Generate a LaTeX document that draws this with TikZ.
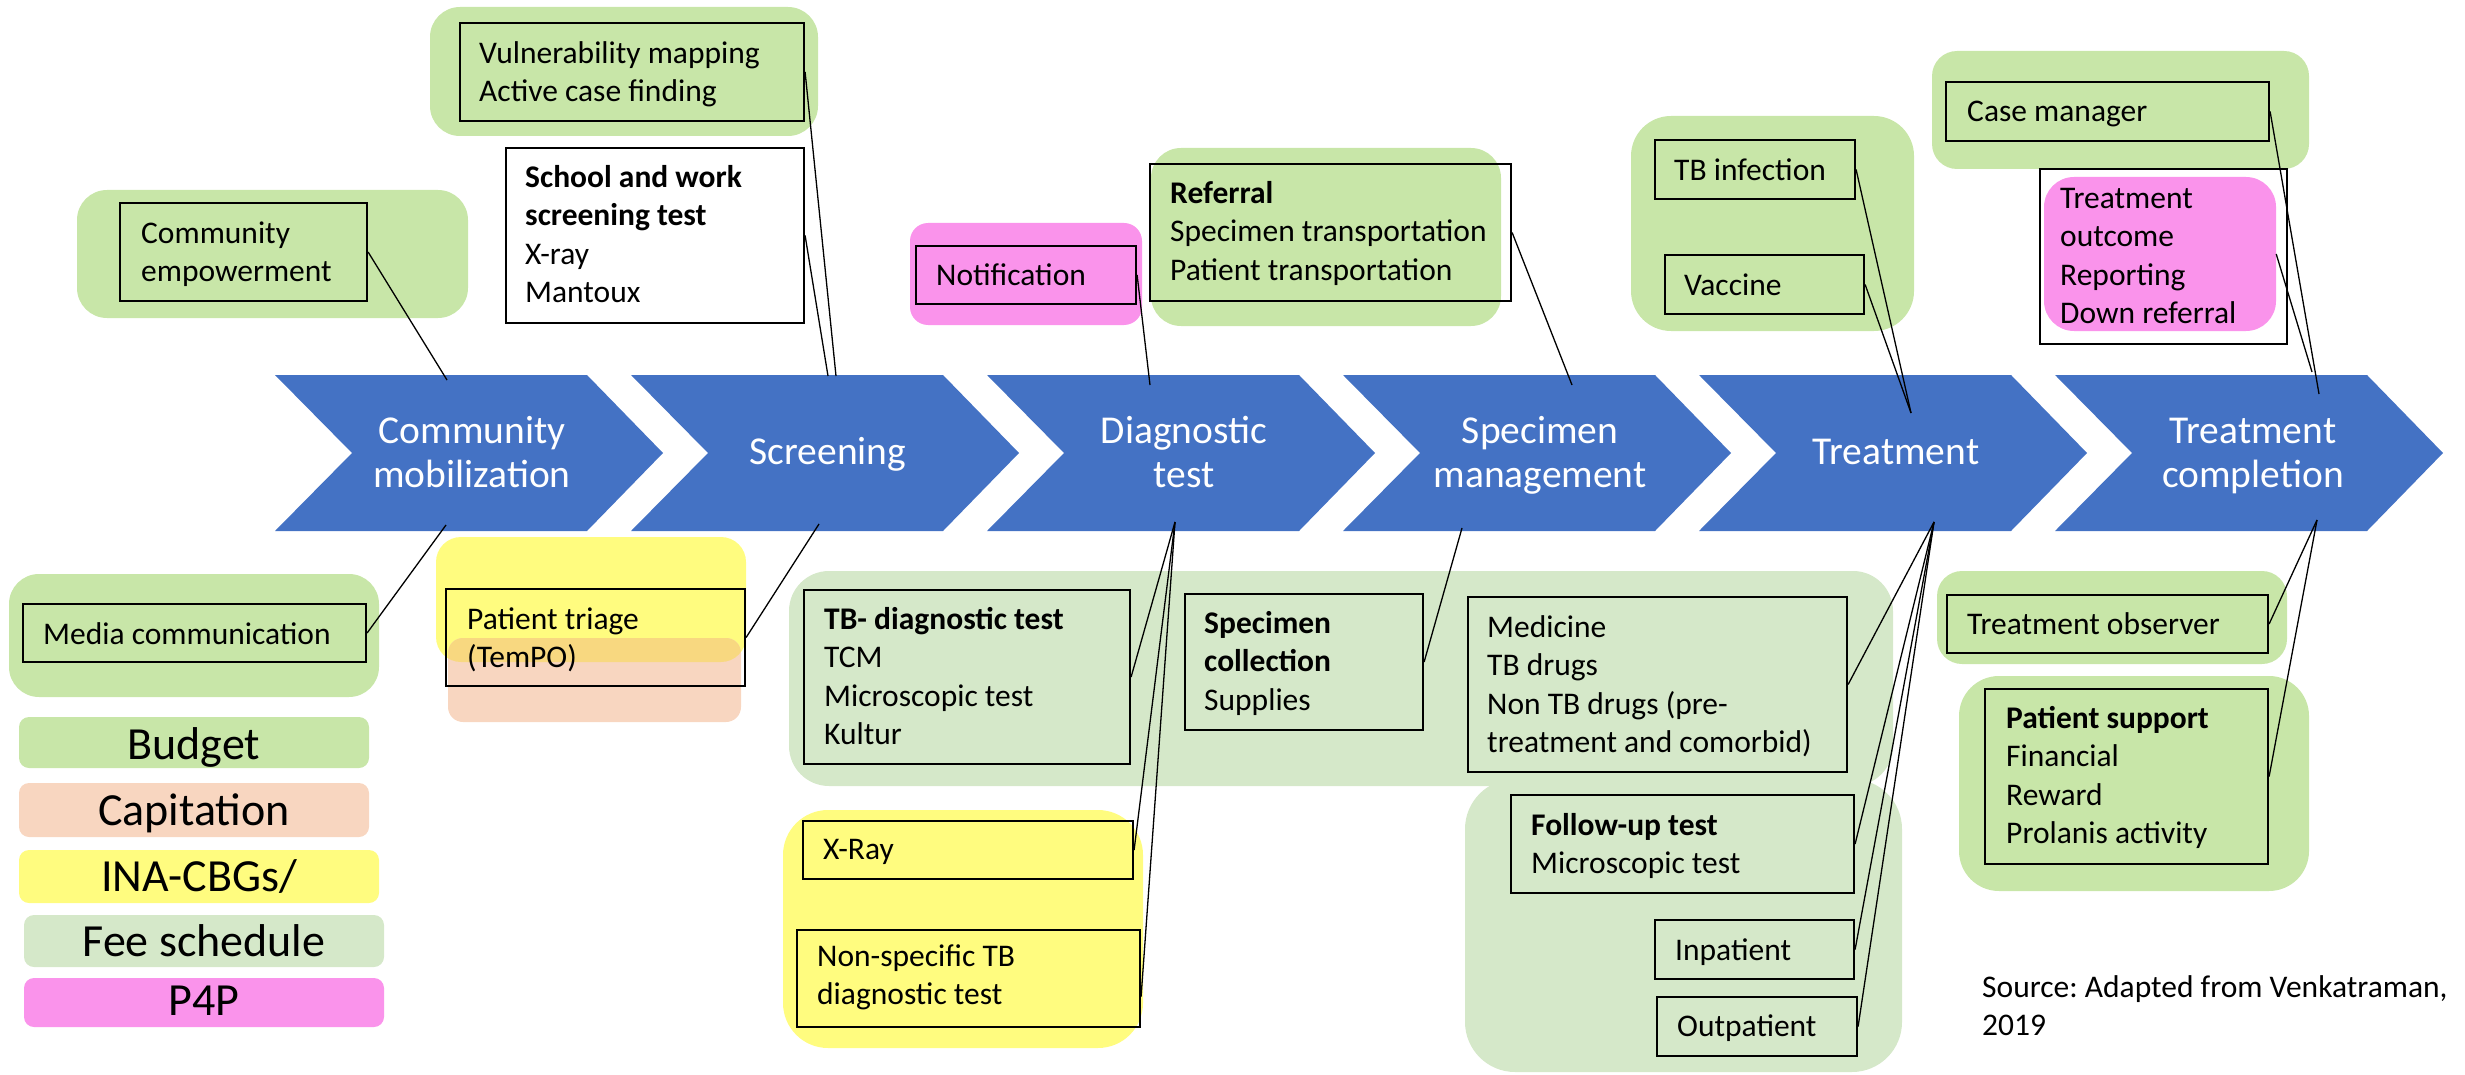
\documentclass[tikz,border=0pt]{standalone}
\usepackage{fontspec}
\setmainfont{Carlito}
\usetikzlibrary{fit}
\frenchspacing

\definecolor{chevblue}{HTML}{4472C4}
\definecolor{budget}{HTML}{C8E6A8}
\definecolor{capit}{HTML}{F8D6C0}
\definecolor{inacbg}{HTML}{FFFC7F}
\definecolor{feesch}{HTML}{D5E8C9}
\definecolor{pfp}{HTML}{FA93EB}
\definecolor{mixcol}{HTML}{F8D880}

% invisible struts fixing the height of the first line of a text block
\newcommand{\fst}{\rule{0pt}{26pt}}
\newcommand{\cst}{\rule{0pt}{30pt}}

\begin{document}
\begin{tikzpicture}[x=1pt,y=-1pt,
  bx/.style={draw=black, line width=2.2pt, inner sep=0pt},
  area/.style={inner sep=0pt, draw=none},
  txt/.style={anchor=north west, inner sep=0pt, align=left,
              font=\fontsize{31.5}{38.5}\selectfont},
  chevtxt/.style={anchor=north, inner sep=0pt, align=center, text=white,
              font=\fontsize{39.5}{44}\selectfont},
  legtxt/.style={anchor=base, inner sep=0pt, font=\fontsize{46}{50}\selectfont},
  conn/.style={draw=black, line width=1.3pt},
  chev/.style={fill=chevblue}]

\useasboundingbox (0,0) rectangle (2465,1075);

% ---------- coloured payment areas ----------
\fill[budget, rounded corners=30] (430,7) rectangle (818,136);
\fill[budget, rounded corners=30] (77,190) rectangle (468,318);
\fill[pfp, rounded corners=18] (910,223) rectangle (1142,325);
\fill[budget, rounded corners=30] (1151,148) rectangle (1501,326);
\fill[budget, rounded corners=40] (1631,116) rectangle (1914,331);
\fill[budget, rounded corners=25] (1932,51) rectangle (2309,169);
\node[area, fill=pfp, rounded corners=30, fit={(2044,177) (2276,331)}] (trobg) {};
\fill[budget, rounded corners=30] (9,574) rectangle (379,697);
\fill[inacbg, rounded corners=25] (436,537) rectangle (746,662);
\fill[capit, rounded corners=15] (448,638) rectangle (741,722);
\begin{scope}
  \clip[rounded corners=25] (436,537) rectangle (746,662);
  \fill[mixcol, rounded corners=15] (448,638) rectangle (741,722);
\end{scope}
\fill[feesch, rounded corners=40] (789,571) rectangle (1893,786);
\fill[feesch, rounded corners=50] (1465,779) rectangle (1902,1072);
\fill[inacbg, rounded corners=45] (783,810) rectangle (1143,1048);
\fill[budget, rounded corners=25] (1937,571) rectangle (2287,664);
\fill[budget, rounded corners=40] (1959,676) rectangle (2309,891);

% ---------- legend ----------
\fill[budget, rounded corners=10] (19,717) rectangle (369,768);
\fill[capit, rounded corners=10] (19,783) rectangle (369,837);
\fill[inacbg, rounded corners=10] (19,850) rectangle (379,903);
\fill[feesch, rounded corners=10] (24,915) rectangle (384,967);
\fill[pfp, rounded corners=10] (24,978) rectangle (384,1027);
\node[legtxt] (lgbudget) at (194,759) {Budget};
\node[legtxt] (lgcapit) at (194,825) {Capitation};
\node[legtxt] (lgina) at (199,891) {INA-CBGs/};
\node[legtxt] (lgfee) at (204,956) {Fee schedule};
\node[legtxt] (lgpfp) at (204,1015) {P4P};

% ---------- process chevrons ----------
\foreach \i in {0,...,5}
  \fill[chev] ({275+356*\i},375) -- ++(312,0) -- ++(76,78) -- ++(-76,78)
              -- ++(-312,0) -- ++(77,-78) -- cycle;
\node[chevtxt] (chev1) at (472,413) {\cst Community\\mobilization};
\node[chevtxt] (chev2) at (828,434) {\cst Screening};
\node[chevtxt] (chev3) at (1184,413) {\cst Diagnostic\\test};
\node[chevtxt] (chev4) at (1540,413) {\cst Specimen\\management};
\node[chevtxt] (chev5) at (1896,434) {\cst Treatment};
\node[chevtxt] (chev6) at (2253,413) {\cst Treatment\\completion};

% attachment points on the chevrons
\coordinate (c1t) at (447,380);
\coordinate (c1b) at (446,525);
\coordinate (c2ta) at (836,376);
\coordinate (c2tb) at (828,376);
\coordinate (c2b) at (819,524);
\coordinate (c3t) at (1150,385);
\coordinate (c3b) at (1175,522);
\coordinate (c4t) at (1572,385);
\coordinate (c4b) at (1462,528);
\coordinate (c5t) at (1911,413);
\coordinate (c5b) at (1934,522);
\coordinate (c6ta) at (2319,394);
\coordinate (c6tb) at (2312,372);
\coordinate (c6b) at (2317,520);

% ---------- activity boxes ----------
\node[bx, fit={(460,23) (804,121)}] (vul) {};
\node[txt] (vult) at (479,37) {\fst Vulnerability mapping\\Active case finding};

\node[bx, fit={(506,148) (804,323)}] (school) {};
\node[txt] (schoolt) at (525,161) {\fst\textbf{School and work}\\\textbf{screening test}\\X-ray\\Mantoux};

\node[bx, fit={(120,203) (367,301)}] (ce) {};
\node[txt] (cet) at (141,217) {\fst Community\\empowerment};

\node[bx, fit={(916,246) (1136,304)}] (notif) {};
\node[txt] (notift) at (936,259) {\fst Notification};

\node[bx, fit={(1150,164) (1511,301)}] (ref) {};
\node[txt] (reft) at (1170,177) {\fst\textbf{Referral}\\Specimen transportation\\Patient transportation};

\node[bx, fit={(1655,140) (1855,199)}] (tbi) {};
\node[txt] (tbit) at (1674,154) {\fst TB infection};

\node[bx, fit={(1665,255) (1864,314)}] (vac) {};
\node[txt] (vact) at (1684,269) {\fst Vaccine};

\node[bx, fit={(1946,82) (2269,141)}] (cm) {};
\node[txt] (cmt) at (1967,95) {\fst Case manager};

\node[bx, fit={(2040,169) (2287,344)}] (tro) {};
\node[txt] (trot) at (2060,182) {\fst Treatment\\outcome\\Reporting\\Down referral};

\node[bx, fit={(23,604) (366,662)}] (media) {};
\node[txt] (mediat) at (43,618) {\fst Media communication};

\node[bx, fit={(446,589) (745,686)}] (pt) {};
\node[txt] (ptt) at (467,603) {\fst Patient triage\\(TemPO)};

\node[bx, fit={(804,590) (1130,764)}] (tbd) {};
\node[txt] (tbdt) at (824,603) {\fst\textbf{TB- diagnostic test}\\TCM\\Microscopic test\\Kultur};

\node[bx, fit={(1185,594) (1423,730)}] (spc) {};
\node[txt] (spct) at (1204,607) {\fst\textbf{Specimen}\\\textbf{collection}\\Supplies};

\node[bx, fit={(1468,597) (1847,772)}] (med) {};
\node[txt] (medt) at (1487,611) {\fst Medicine\\TB drugs\\Non TB drugs (pre-\\treatment and comorbid)};

\node[bx, fit={(1511,795) (1854,893)}] (fu) {};
\node[txt] (fut) at (1531,809) {\fst\textbf{Follow-up test}\\Microscopic test};

\node[bx, fit={(1655,920) (1854,979)}] (inp) {};
\node[txt] (inpt) at (1675,934) {\fst Inpatient};

\node[bx, fit={(1657,997) (1857,1056)}] (outp) {};
\node[txt] (outpt) at (1677,1010) {\fst Outpatient};

\node[bx, fit={(803,821) (1133,879)}] (xr) {};
\node[txt] (xrt) at (823,833) {\fst X-Ray};

\node[bx, fit={(797,930) (1140,1027)}] (ns) {};
\node[txt] (nst) at (817,940) {\fst Non-specific TB\\diagnostic test};

\node[bx, fit={(1947,595) (2268,653)}] (tob) {};
\node[txt] (tobt) at (1967,608) {\fst Treatment observer};

\node[bx, fit={(1985,689) (2268,864)}] (ps) {};
\node[txt] (pst) at (2006,702) {\fst\textbf{Patient support}\\Financial\\Reward\\Prolanis activity};

\node[txt] (source) at (1982,971) {\fst Source: Adapted from Venkatraman,\\2019};

% ---------- connectors ----------
\draw[conn] (ce.east) -- (c1t);
\draw[conn] (media.east) -- (c1b);
\draw[conn] (vul.east) -- (c2ta);
\draw[conn] (school.east) -- (c2tb);
\draw[conn] (pt.east) -- (c2b);
\draw[conn] (notif.east) -- (c3t);
\draw[conn] (c3b) -- (tbd.east);
\draw[conn] (c3b) -- (xr.east);
\draw[conn] (c3b) -- ([yshift=-18pt]ns.east);
\draw[conn] (ref.east) -- (c4t);
\draw[conn] (c4b) -- (spc.east);
\draw[conn] (tbi.east) -- (c5t);
\draw[conn] (vac.east) -- (c5t);
\draw[conn] (c5b) -- (med.east);
\draw[conn] (c5b) -- (fu.east);
\draw[conn] (c5b) -- (inp.east);
\draw[conn] (c5b) -- (outp.east);
\draw[conn] (cm.east) -- (c6ta);
\draw[conn] (trobg.east) -- (c6tb);
\draw[conn] (c6b) -- (tob.east);
\draw[conn] (c6b) -- (ps.east);

\end{tikzpicture}
\end{document}
